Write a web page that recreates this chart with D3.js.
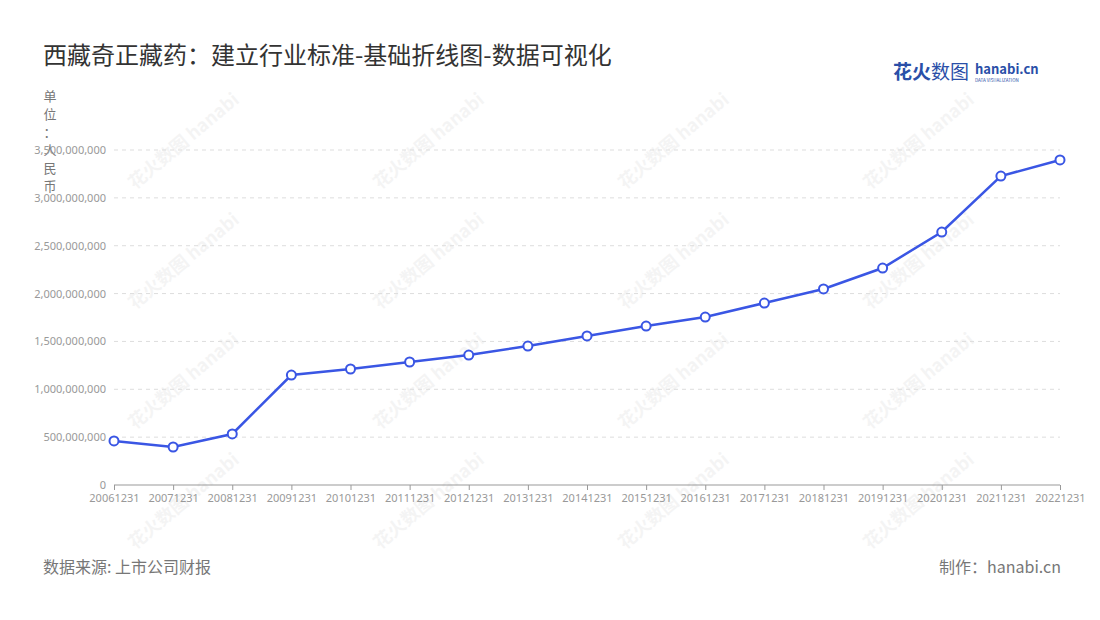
<!DOCTYPE html>
<html><head><meta charset="utf-8">
<script src="https://cdn.jsdelivr.net/npm/d3@7"></script>
<style>body{margin:0;background:#fff;font-family:"Noto Sans CJK SC","Noto Sans",sans-serif;}</style>
</head><body><div id="chart"></div>
<script>
var years = ["20061231","20071231","20081231","20091231","20101231","20111231","20121231","20131231","20141231","20151231","20161231","20171231","20181231","20191231","20201231","20211231","20221231"];
var revenue = [460e6,397e6,533e6,1149e6,1212e6,1285e6,1358e6,1452e6,1557e6,1661e6,1755e6,1901e6,2048e6,2267e6,2643e6,3228e6,3396e6];
var yTicks = [0,5e8,1e9,1.5e9,2e9,2.5e9,3e9,3.5e9];

var svg = d3.select("#chart").append("svg").attr("width",1100).attr("height",620);
var margin = {left:114, right:40, top:150, bottom:135};

var x = d3.scalePoint().domain(years).range([margin.left,1060]);
var y = d3.scaleLinear().domain([0,3.5e9]).range([485,150]);

// watermarks
for (var r=0;r<4;r++) for (var c=0;c<4;c++) {
  svg.append("text").attr("transform","translate("+(135+c*245)+","+(190+r*120)+") rotate(-40)")
    .attr("font-size",18).attr("font-weight","bold").attr("fill","#000").attr("opacity",0.04).text("花火数图 hanabi");
}

svg.append("text").attr("x",43).attr("y",64).attr("font-size",24).attr("fill","#333").text("西藏奇正藏药：建立行业标准-基础折线图-数据可视化");
svg.append("text").attr("x",893).attr("y",79).attr("font-size",19).attr("font-weight","bold").attr("fill","#2a4fa8").text("花火");
svg.append("text").attr("x",931).attr("y",79).attr("font-size",19).attr("fill","#2a4fa8").text("数图");
svg.append("text").attr("x",975).attr("y",74).attr("font-size",13).attr("font-weight","bold").attr("fill","#2a4fa8").text("hanabi.cn");
svg.append("text").attr("x",975).attr("y",82).attr("font-size",4.5).attr("fill","#2a4fa8").text("DATA VISUALIZATION");

// unit label vertical
"单位：人民币".split("").forEach(function(ch,i){
  svg.append("text").attr("x",50).attr("y",101+i*18).attr("text-anchor","middle").attr("font-size",13).attr("fill","#777").text(ch);
});

// grid
svg.append("g").selectAll("line").data(yTicks.slice(1)).join("line")
  .attr("x1",margin.left).attr("x2",1060).attr("y1",d=>y(d)).attr("y2",d=>y(d))
  .attr("stroke","#ddd").attr("stroke-dasharray","4,4");

var ya = svg.append("g").attr("transform","translate("+margin.left+",0)")
  .call(d3.axisLeft(y).tickValues(yTicks).tickFormat(d3.format(",")).tickSize(0).tickPadding(8));
ya.select(".domain").remove();
ya.selectAll("text").attr("fill","#999").attr("font-size",11).attr("font-family","Noto Sans");

var xa = svg.append("g").attr("transform","translate(0,485)")
  .call(d3.axisBottom(x).tickSize(5).tickPadding(4));
xa.select(".domain").attr("stroke","#999").attr("d","M"+margin.left+",0H1060");
xa.selectAll("line").attr("stroke","#999");
xa.selectAll("text").attr("fill","#999").attr("font-size",11).attr("font-family","Noto Sans");

var line = d3.line().x((d,i)=>x(years[i])).y(d=>y(d));
svg.append("path").datum(revenue).attr("d",line).attr("fill","none").attr("stroke","#3a56e4").attr("stroke-width",2.5);
svg.append("g").selectAll("circle").data(revenue).join("circle")
  .attr("cx",(d,i)=>x(years[i])).attr("cy",d=>y(d)).attr("r",4.5)
  .attr("fill","#fff").attr("stroke","#3a56e4").attr("stroke-width",2);

svg.append("text").attr("x",43).attr("y",573).attr("font-size",16).attr("fill","#777").text("数据来源: 上市公司财报");
svg.append("text").attr("x",1061).attr("y",573).attr("text-anchor","end").attr("font-size",16).attr("fill","#777").text("制作：hanabi.cn");
</script></body></html>
